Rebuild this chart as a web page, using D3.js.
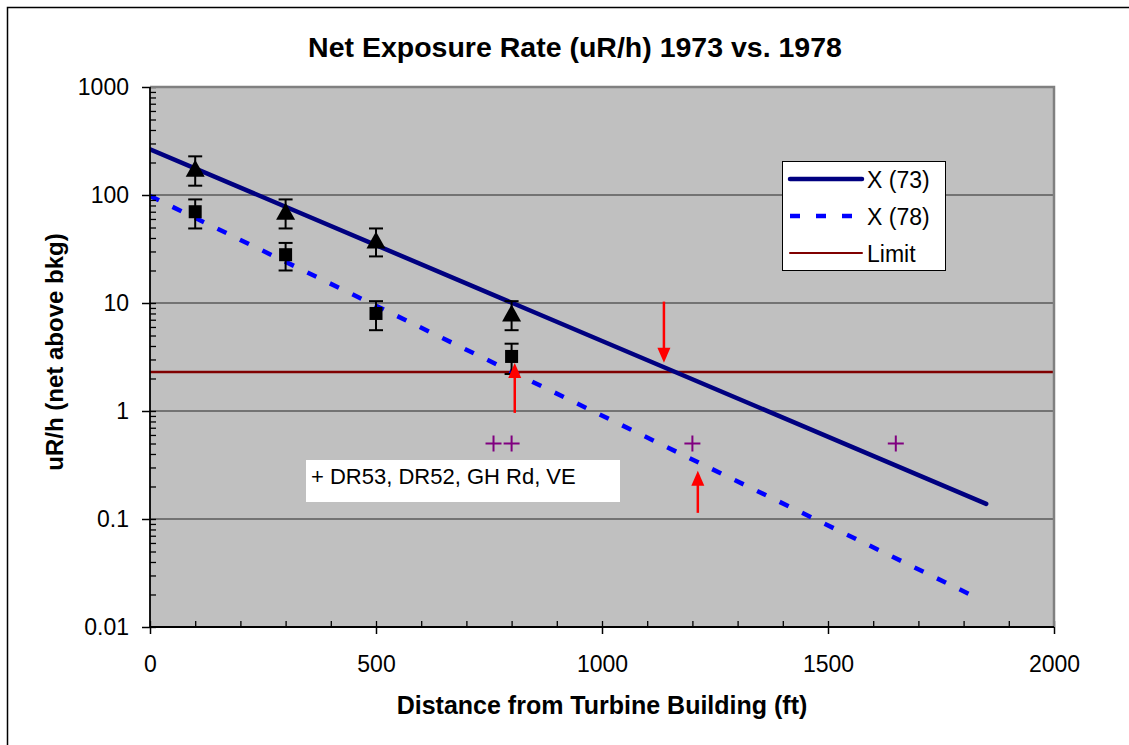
<!DOCTYPE html>
<html>
<head>
<meta charset="utf-8">
<script src="https://cdn.jsdelivr.net/npm/d3@7"></script>
<style>
  body { margin: 0; background: #fff; }
  svg text { font-family: Arial, "Liberation Sans", sans-serif; }
</style>
</head>
<body>
<svg id="chart" width="1129" height="745"></svg>
<script>
// data
var distances = [100, 300, 500, 800];
var rate73 = [175, 70, 38, 8];
var rate73Hi = [228, 91, 49, 10.4];
var rate73Lo = [122, 49, 27, 5.6];
var rate78 = [70, 28, 8, 3.2];
var rate78Hi = [91, 36, 10.4, 4.2];
var rate78Lo = [49, 20, 5.6, 2.2];

// fitted exponential trendlines (end points)
var trend73 = [[0, 265], [1850, 0.138]];
var trend78 = [[0, 98], [1820, 0.0195]];
var limitValue = 2.3;

// other locations (purple crosses)
var otherX = [760, 800, 1200, 1650];
var otherY = [0.5, 0.5, 0.5, 0.5];

// red arrows: x, tail value, head value
var arrowX = [807, 1137, 1212];
var arrowFrom = [0.96, 10.3, 0.114];
var arrowTo = [2.78, 2.8, 0.28];

var xTicks = [0, 500, 1000, 1500, 2000];
var yTicks = [0.01, 0.1, 1, 10, 100, 1000];
var legendNames = ["X (73)", "X (78)", "Limit"];

var svg = d3.select("#chart");
var pLeft = 150, pRight = 1054, pTop = 87, pBottom = 627;

var x = d3.scaleLinear().domain([0, 2000]).range([pLeft, pRight]);
var y = d3.scaleLog().domain([0.01, 1000]).range([pBottom, pTop]);

// chart area border
svg.append("rect")
  .attr("x", 7.5).attr("y", 7.5)
  .attr("width", 1140).attr("height", 760)
  .attr("fill", "#fff").attr("stroke", "#000").attr("stroke-width", 1.5);

// plot area
svg.append("rect")
  .attr("x", pLeft).attr("y", pTop)
  .attr("width", pRight - pLeft).attr("height", pBottom - pTop)
  .attr("fill", "#c0c0c0");

svg.append("defs").append("clipPath").attr("id", "plotclip")
  .append("rect")
  .attr("x", pLeft).attr("y", pTop)
  .attr("width", pRight - pLeft).attr("height", pBottom - pTop);

// gridlines
svg.append("g").selectAll("line")
  .data(yTicks.slice(1, -1))
  .join("line")
  .attr("x1", pLeft).attr("x2", pRight)
  .attr("y1", function(d) { return y(d); })
  .attr("y2", function(d) { return y(d); })
  .attr("stroke", "#5a5a5a").attr("stroke-width", 1.4);

var plot = svg.append("g").attr("clip-path", "url(#plotclip)");

// limit line
plot.append("line")
  .attr("x1", pLeft).attr("x2", pRight)
  .attr("y1", y(limitValue)).attr("y2", y(limitValue))
  .attr("stroke", "#800000").attr("stroke-width", 2.5);

var line = d3.line()
  .x(function(d) { return x(d[0]); })
  .y(function(d) { return y(d[1]); });

plot.append("path")
  .attr("d", line(trend78))
  .attr("fill", "none")
  .attr("stroke", "#0000ff").attr("stroke-width", 4.5)
  .attr("stroke-dasharray", "10,15");

plot.append("path")
  .attr("d", line(trend73))
  .attr("fill", "none")
  .attr("stroke", "#000080").attr("stroke-width", 4.5)
  .attr("stroke-linecap", "round");

// error bars
function errorBars(hi, lo) {
  var g = svg.append("g").attr("stroke", "#000").attr("stroke-width", 2);
  distances.forEach(function(d, i) {
    var cx = x(d);
    g.append("line").attr("x1", cx).attr("x2", cx)
      .attr("y1", y(hi[i])).attr("y2", y(lo[i]));
    g.append("line").attr("x1", cx - 7).attr("x2", cx + 7)
      .attr("y1", y(hi[i])).attr("y2", y(hi[i]));
    g.append("line").attr("x1", cx - 7).attr("x2", cx + 7)
      .attr("y1", y(lo[i])).attr("y2", y(lo[i]));
  });
}
errorBars(rate73Hi, rate73Lo);
errorBars(rate78Hi, rate78Lo);

// markers
svg.append("g").selectAll("path")
  .data(distances)
  .join("path")
  .attr("d", function(d, i) {
    var cx = x(d), cy = y(rate73[i]);
    return "M" + cx + "," + (cy - 9) + "L" + (cx + 9.5) + "," + (cy + 8) +
      "L" + (cx - 9.5) + "," + (cy + 8) + "Z";
  })
  .attr("fill", "#000");

svg.append("g").selectAll("rect")
  .data(distances)
  .join("rect")
  .attr("x", function(d) { return x(d) - 6.5; })
  .attr("y", function(d, i) { return y(rate78[i]) - 6.5; })
  .attr("width", 13).attr("height", 13)
  .attr("fill", "#000");

// purple crosses
svg.append("g").selectAll("path")
  .data(otherX)
  .join("path")
  .attr("d", function(d, i) {
    var cx = x(d), cy = y(otherY[i]);
    return "M" + (cx - 8) + "," + cy + "H" + (cx + 8) +
      "M" + cx + "," + (cy - 8) + "V" + (cy + 8);
  })
  .attr("stroke", "#800080").attr("stroke-width", 2).attr("fill", "none");

// axes
var yAxis = svg.append("g")
  .attr("transform", "translate(" + pLeft + ",0)")
  .call(d3.axisLeft(y).tickValues(yTicks).tickSize(8).tickPadding(13)
    .tickFormat(function(d) { return d < 1 ? String(d) : d3.format("d")(d); }));
yAxis.select(".domain").remove();
yAxis.selectAll("text").attr("font-size", 23).attr("fill", "#000")
  .attr("font-family", "Arial, 'Liberation Sans', sans-serif")
  .attr("dy", "0.34em");
yAxis.selectAll(".tick line").attr("stroke", "#000").attr("stroke-width", 1.5);

var yMinor = [];
yTicks.forEach(function(t) {
  for (var k = 1; k <= 9; k++) if (t * k <= 1000) yMinor.push(t * k);
});
var yAxisIn = svg.append("g")
  .attr("transform", "translate(" + pLeft + ",0)")
  .call(d3.axisRight(y).tickValues(yMinor).tickSize(6).tickFormat(""));
yAxisIn.select(".domain").remove();
yAxisIn.selectAll(".tick line").attr("stroke", "#000").attr("stroke-width", 1.3);

var xAxis = svg.append("g")
  .attr("transform", "translate(0," + pBottom + ")")
  .call(d3.axisBottom(x).tickValues(xTicks).tickSize(7).tickFormat(d3.format("d")));
xAxis.select(".domain").remove();
xAxis.selectAll("text").attr("font-size", 23).attr("fill", "#000")
  .attr("font-family", "Arial, 'Liberation Sans', sans-serif")
  .attr("y", 45).attr("dy", 0);
xAxis.selectAll(".tick line").attr("stroke", "#000").attr("stroke-width", 1.5);

var xAxisIn = svg.append("g")
  .attr("transform", "translate(0," + pBottom + ")")
  .call(d3.axisTop(x).tickValues(d3.range(0, 2001, 100)).tickSize(6).tickFormat(""));
xAxisIn.select(".domain").remove();
xAxisIn.selectAll(".tick line").attr("stroke", "#000").attr("stroke-width", 1.3);

// plot border (grey top/right, black axes)
svg.append("path")
  .attr("d", "M" + pLeft + "," + pTop + "H" + pRight + "V" + pBottom)
  .attr("fill", "none").attr("stroke", "#808080").attr("stroke-width", 2.5);
svg.append("path")
  .attr("d", "M" + pLeft + "," + pTop + "V" + pBottom + "H" + pRight)
  .attr("fill", "none").attr("stroke", "#000").attr("stroke-width", 1.8);

// red arrows
var arrows = svg.append("g");
arrowX.forEach(function(d, i) {
  var ax = x(d), y0 = y(arrowFrom[i]), y1 = y(arrowTo[i]);
  var dir = y1 < y0 ? 1 : -1;
  arrows.append("line")
    .attr("x1", ax).attr("x2", ax)
    .attr("y1", y0).attr("y2", y1 + dir * 10)
    .attr("stroke", "#ff0000").attr("stroke-width", 2.5);
  arrows.append("path")
    .attr("d", "M" + ax + "," + y1 + "L" + (ax - 6.5) + "," + (y1 + dir * 15) +
      "L" + (ax + 6.5) + "," + (y1 + dir * 15) + "Z")
    .attr("fill", "#ff0000");
});

// note text box
svg.append("rect")
  .attr("x", 306).attr("y", 460).attr("width", 314).attr("height", 42)
  .attr("fill", "#fff");
svg.append("text")
  .attr("x", 311).attr("y", 484)
  .attr("font-size", 22)
  .text("+ DR53, DR52, GH Rd, VE");

// legend
var lg = svg.append("g");
lg.append("rect")
  .attr("x", 782.5).attr("y", 161.5).attr("width", 163).attr("height", 109)
  .attr("fill", "#fff").attr("stroke", "#000").attr("stroke-width", 1);
var legendStyles = [
  { color: "#000080", width: 4.5, dash: null },
  { color: "#0000ff", width: 4.5, dash: "10,16" },
  { color: "#800000", width: 2, dash: null }
];
legendNames.forEach(function(name, i) {
  var ly = 179 + i * 37;
  var s = legendStyles[i];
  lg.append("line")
    .attr("x1", 790).attr("x2", 862).attr("y1", ly).attr("y2", ly)
    .attr("stroke", s.color).attr("stroke-width", s.width)
    .attr("stroke-linecap", s.dash ? "butt" : "round")
    .attr("stroke-dasharray", s.dash);
  lg.append("text")
    .attr("x", 867).attr("y", ly + 8.5)
    .attr("font-size", 23)
    .text(name);
});

// titles
svg.append("text")
  .attr("x", 575).attr("y", 57)
  .attr("text-anchor", "middle")
  .attr("font-size", 28.5).attr("font-weight", "bold")
  .text("Net Exposure Rate (uR/h) 1973 vs. 1978");

svg.append("text")
  .attr("x", 602).attr("y", 714)
  .attr("text-anchor", "middle")
  .attr("font-size", 25).attr("font-weight", "bold")
  .text("Distance from Turbine Building (ft)");

svg.append("text")
  .attr("transform", "translate(63,352) rotate(-90)")
  .attr("text-anchor", "middle")
  .attr("font-size", 24).attr("font-weight", "bold")
  .text("uR/h (net above bkg)");
</script>
</body>
</html>
